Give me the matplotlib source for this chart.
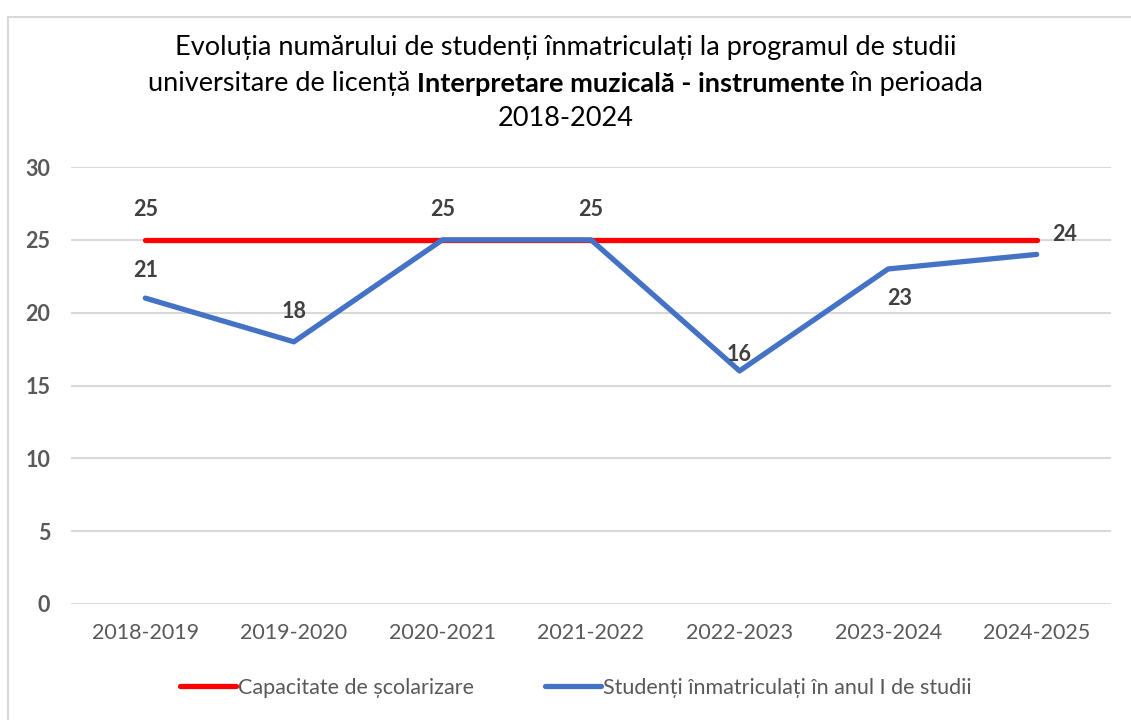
import matplotlib
matplotlib.use("Agg")
import matplotlib.pyplot as plt
from matplotlib.patches import Rectangle

plt.rcParams['font.family'] = ['Lato', 'DejaVu Sans']

years = ['2018-2019', '2019-2020', '2020-2021', '2021-2022',
         '2022-2023', '2023-2024', '2024-2025']
capacity = [25, 25, 25, 25, 25, 25, 25]
students = [21, 18, 25, 25, 16, 23, 24]

# which points get a data label, and where (offset in points)
capacity_labels = {0: (0, 22), 2: (0, 22), 3: (0, 22)}
students_labels = {0: (0, 20), 1: (0, 22), 4: (0, 12), 5: (8, -21), 6: (20, 14)}

red = '#FF0000'
blue = '#4472C4'
grey_text = '#595959'
label_col = '#404040'

fig = plt.figure(figsize=(11.31, 7.2), dpi=100)
fig.patches.append(Rectangle((8 / 1131, -0.1), 1.2, 1 - 17 / 720 + 0.1,
                             transform=fig.transFigure, fill=False,
                             edgecolor='#D9D9D9', linewidth=1.5))

ax = fig.add_axes([71 / 1131, 1 - 604 / 720, 1040 / 1131, 437 / 720])
x = list(range(len(years)))
ax.plot(x, capacity, color=red, lw=3.8, solid_capstyle='round',
        solid_joinstyle='round', label='Capacitate de școlarizare', zorder=3)
ax.plot(x, students, color=blue, lw=3.8, solid_capstyle='round',
        solid_joinstyle='round', label='Studenți înmatriculați în anul I de studii', zorder=3)

for i, off in capacity_labels.items():
    ax.annotate(str(capacity[i]), (x[i], capacity[i]), xytext=off,
                textcoords='offset points', ha='center', va='center',
                fontsize=15.5, fontweight='bold', color=label_col)
for i, off in students_labels.items():
    ax.annotate(str(students[i]), (x[i], students[i]), xytext=off,
                textcoords='offset points', ha='center', va='center',
                fontsize=15.5, fontweight='bold', color=label_col)

ax.set_xlim(-0.5, len(years) - 0.5)
ax.set_ylim(0, 30)
ax.set_yticks(range(0, 31, 5))
ax.set_xticks(x)
ax.set_xticklabels(years, fontsize=15.5, color=grey_text)
for t in ax.get_yticklabels():
    t.set_fontsize(15.5)
    t.set_fontweight('bold')
    t.set_color(grey_text)
ax.tick_params(length=0)
ax.tick_params(axis='x', pad=14)
ax.tick_params(axis='y', pad=15)
ax.grid(axis='y', color='#D9D9D9', lw=1.5)
ax.set_axisbelow(True)
for s in ax.spines.values():
    s.set_visible(False)

leg = fig.legend(loc='center', bbox_to_anchor=(0.5 + 10 / 1131, 1 - 688 / 720), ncol=2,
                 frameon=False, fontsize=15.5, handlelength=2.6,
                 handletextpad=0.1, columnspacing=3.3)
for t in leg.get_texts():
    t.set_color(grey_text)

# title, second line has a bold middle part
fs = 19.5
tcol = '#000000'
fig.text(0.5, 1 - 48 / 720, 'Evoluția numărului de studenți înmatriculați la programul de studii',
         ha='center', va='center', fontsize=fs, color=tcol)
fig.text(0.5, 1 - 118 / 720, '2018-2024', ha='center', va='center', fontsize=fs, color=tcol)

parts = [('universitare de licență ', 'normal'),
         ('Interpretare muzicală - instrumente', 'bold'),
         (' în perioada', 'normal')]
renderer = fig.canvas.get_renderer()
texts = []
widths = []
for s, w in parts:
    t = fig.text(0, 1 - 84 / 720, s, ha='left', va='center', fontsize=fs,
                 fontweight=w, color=tcol)
    bb = t.get_window_extent(renderer=renderer)
    texts.append(t)
    widths.append(bb.width)
W = fig.bbox.width
xpos = (W - sum(widths)) / 2
for t, wd in zip(texts, widths):
    t.set_x(xpos / W)
    xpos += wd

fig.savefig('out.png', dpi=100)
